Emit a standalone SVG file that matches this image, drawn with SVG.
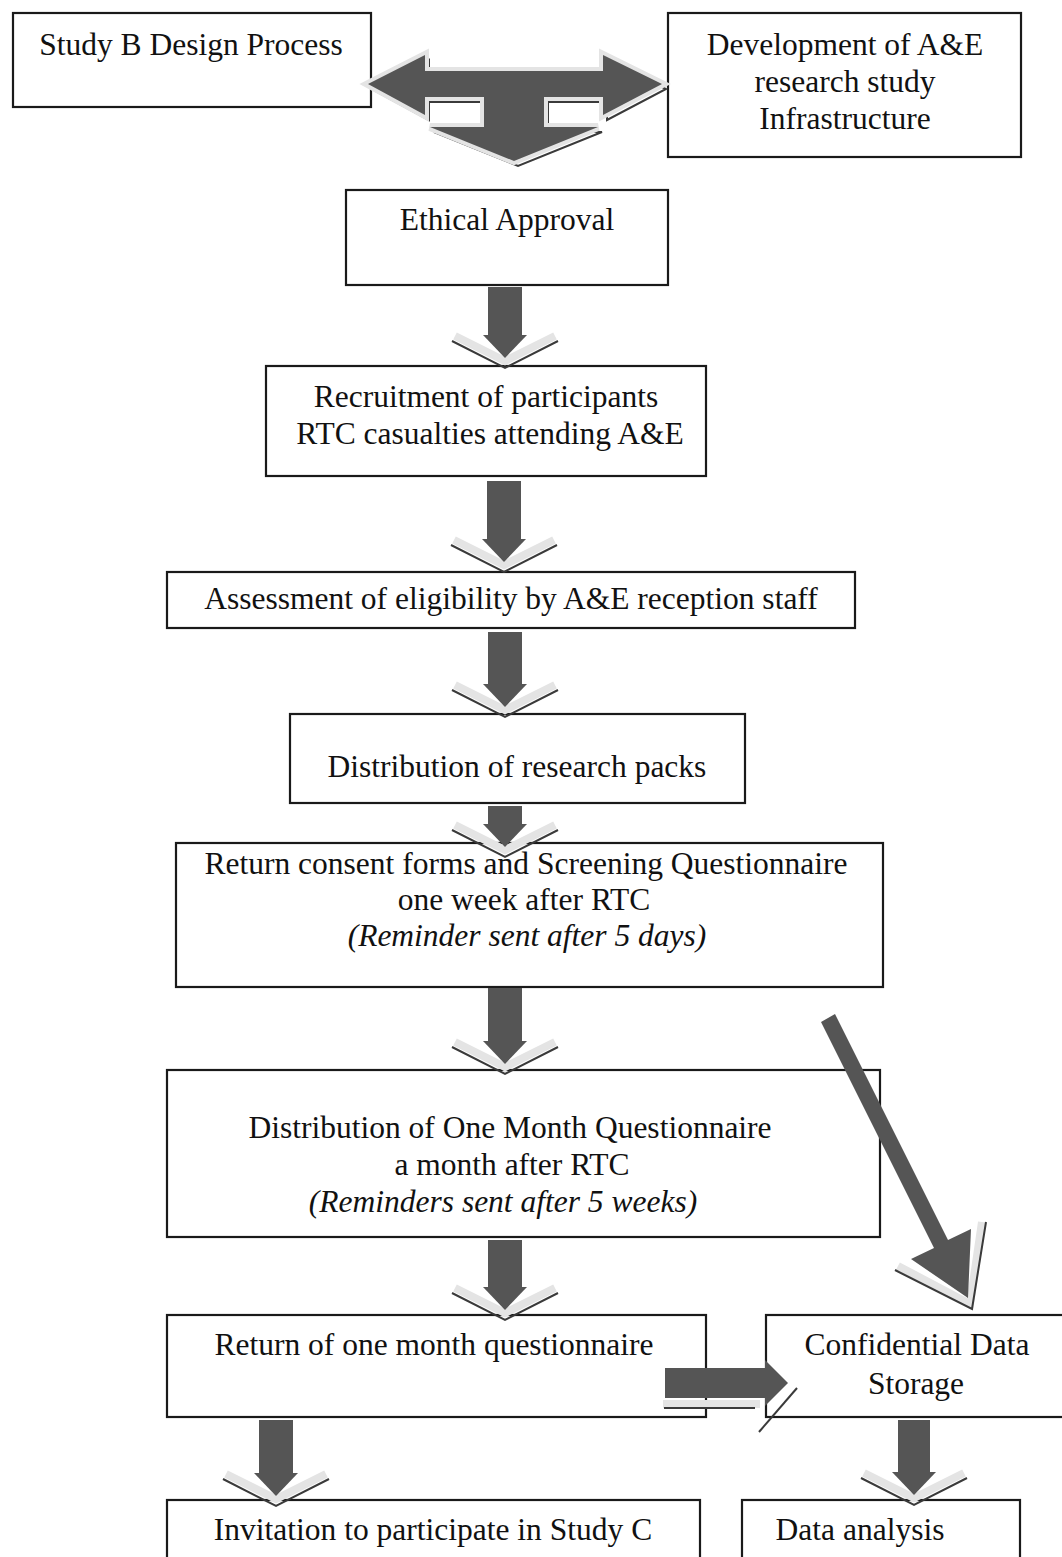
<svg xmlns="http://www.w3.org/2000/svg" xmlns:xlink="http://www.w3.org/1999/xlink" width="1062" height="1557" viewBox="0 0 1062 1557">
  <style>
    .box { fill: #ffffff; stroke: #1a1a1a; stroke-width: 2.2; }
    .t { font-family: "Liberation Serif", "Times New Roman", serif; font-size: 31.5px; fill: #111111; text-anchor: middle; }
    .ti { font-style: italic; }
    .fat { fill: #555555; }
    .halo { fill: none; stroke: #e4e4e4; stroke-width: 8; stroke-linejoin: miter; }
    .edge { fill: none; stroke: #3a3a3a; stroke-width: 2; }
  </style>
  <defs>
    <!-- bevelled head of a downward block arrow; origin at the point of the chevron -->
    <g id="dhead">
      <polyline class="halo" points="-50,-30 0,-5 50,-30" stroke-width="9"/>
      <polyline class="edge" points="-53,-25 0,2 53,-25"/>
      <polygon class="fat" points="-22,-31 22,-31 0,-8"/>
    </g>
    <!-- T-shaped three-way block arrow -->
    <polygon id="tshape" points="368,84 425,55 425,71 603,71 603,55 662,84 603,115 603,97 544,97 544,127 598,127 514,161 430,127 484,127 484,97 425,97 425,115"/>
  </defs>

  <rect width="1062" height="1557" fill="#ffffff"/>

  <!-- nodes -->
  <g id="n-design">
    <rect class="box" x="13" y="13" width="358" height="94"/>
    <text class="t" x="191" y="55">Study B Design Process</text>
  </g>
  <g id="n-infra">
    <rect class="box" x="668" y="13" width="353" height="144"/>
    <text class="t" x="845" y="55">Development of A&amp;E</text>
    <text class="t" x="845" y="92">research study</text>
    <text class="t" x="845" y="129">Infrastructure</text>
  </g>
  <g id="n-ethics">
    <rect class="box" x="346" y="190" width="322" height="95"/>
    <text class="t" x="507" y="230">Ethical Approval</text>
  </g>
  <g id="n-recruit">
    <rect class="box" x="266" y="366" width="440" height="110"/>
    <text class="t" x="486" y="407">Recruitment of participants</text>
    <text class="t" x="490" y="444">RTC casualties attending A&amp;E</text>
  </g>
  <g id="n-eligibility">
    <rect class="box" x="167" y="572" width="688" height="56"/>
    <text class="t" x="511" y="609">Assessment of eligibility by A&amp;E reception staff</text>
  </g>
  <g id="n-packs">
    <rect class="box" x="290" y="714" width="455" height="89"/>
    <text class="t" x="517" y="777">Distribution of research packs</text>
  </g>
  <g id="n-consent">
    <rect class="box" x="176" y="843" width="707" height="144"/>
    <text class="t" x="526" y="874">Return consent forms and Screening Questionnaire</text>
    <text class="t" x="524" y="910">one week after RTC</text>
    <text class="t ti" x="527" y="946">(Reminder sent after 5 days)</text>
  </g>
  <g id="n-onemonth">
    <rect class="box" x="167" y="1070" width="713" height="167"/>
    <text class="t" x="510" y="1138">Distribution of One Month Questionnaire</text>
    <text class="t" x="512" y="1175">a month after RTC</text>
    <text class="t ti" x="503" y="1212">(Reminders sent after 5 weeks)</text>
  </g>
  <g id="n-return">
    <rect class="box" x="167" y="1315" width="539" height="102"/>
    <text class="t" x="434" y="1355">Return of one month questionnaire</text>
  </g>
  <g id="n-storage">
    <rect class="box" x="766" y="1315" width="300" height="102"/>
    <text class="t" x="917" y="1355">Confidential Data</text>
    <text class="t" x="916" y="1394">Storage</text>
  </g>
  <g id="n-studyc">
    <rect class="box" x="167" y="1500" width="533" height="62"/>
    <text class="t" x="433" y="1540">Invitation to participate in Study C</text>
  </g>
  <g id="n-analysis">
    <rect class="box" x="742" y="1500" width="278" height="62"/>
    <text class="t" x="860" y="1540">Data analysis</text>
  </g>

  <!-- connectors -->
  <g id="connectors">
    <!-- three-way arrow between the two design boxes and ethical approval -->
    <g id="c-tee">
      <use xlink:href="#tshape" transform="translate(4,5)" class="edge"/>
      <use xlink:href="#tshape" class="halo"/>
      <use xlink:href="#tshape" class="fat"/>
    </g>

    <!-- straight downward arrows -->
    <g id="c-ethics-recruit">
      <rect class="fat" x="488" y="287" width="34" height="48"/>
      <use xlink:href="#dhead" transform="translate(505,366)"/>
    </g>
    <g id="c-recruit-eligibility">
      <rect class="fat" x="487" y="481" width="34" height="59"/>
      <use xlink:href="#dhead" transform="translate(504,570)"/>
    </g>
    <g id="c-eligibility-packs">
      <rect class="fat" x="488" y="632" width="34" height="52"/>
      <use xlink:href="#dhead" transform="translate(505,715)"/>
    </g>
    <g id="c-packs-consent">
      <rect class="fat" x="488" y="806" width="34" height="19"/>
      <use xlink:href="#dhead" transform="translate(505,855)"/>
    </g>
    <g id="c-consent-onemonth">
      <rect class="fat" x="488" y="988" width="34" height="53"/>
      <use xlink:href="#dhead" transform="translate(505,1072)"/>
    </g>
    <g id="c-onemonth-return">
      <rect class="fat" x="488" y="1240" width="34" height="48"/>
      <use xlink:href="#dhead" transform="translate(505,1318)"/>
    </g>
    <g id="c-return-studyc">
      <rect class="fat" x="259" y="1420" width="34" height="54"/>
      <use xlink:href="#dhead" transform="translate(276,1504)"/>
    </g>
    <g id="c-storage-analysis">
      <rect class="fat" x="898" y="1420" width="32" height="53"/>
      <use xlink:href="#dhead" transform="translate(914,1503)"/>
    </g>

    <!-- diagonal arrow from the consent box to data storage -->
    <g id="c-consent-storage">
      <polyline class="halo" points="898,1266 970,1304 982,1222" stroke-width="6"/>
      <polyline class="edge" points="895,1270 972,1309 986,1222"/>
      <polygon class="fat" points="835,1014 948,1240 971,1229 968,1298 911,1259 934,1248 821,1022"/>
    </g>

    <!-- sideways arrow from questionnaire return to data storage -->
    <g id="c-return-storage">
      <line class="halo" x1="663" y1="1404" x2="760" y2="1404" stroke-width="6"/>
      <line class="edge" x1="664" y1="1408" x2="755" y2="1408"/>
      <line class="edge" x1="759" y1="1432" x2="797" y2="1388"/>
      <rect class="fat" x="665" y="1368" width="101" height="30"/>
      <polygon class="fat" points="765,1360 788,1383 765,1406"/>
    </g>
  </g>
</svg>
